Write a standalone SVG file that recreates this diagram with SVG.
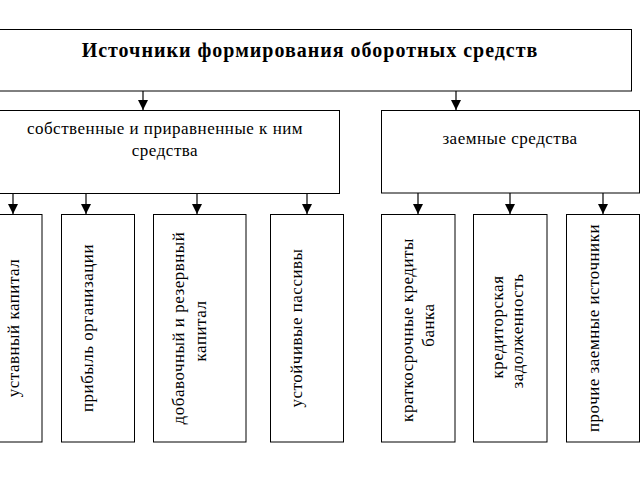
<svg xmlns="http://www.w3.org/2000/svg" width="640" height="480" viewBox="0 0 640 480">
<defs>
<marker id="ah" viewBox="0 0 10 10" refX="10" refY="5" markerWidth="10" markerHeight="10" markerUnits="userSpaceOnUse" orient="auto">
<path d="M0,0 L10,5 L0,10 Z" fill="#000"/>
</marker>
<style>
.box{fill:#fff;stroke:#000;stroke-width:1}
.t{font-family:"Liberation Serif","Times New Roman",serif;font-size:17px;letter-spacing:0.5px;fill:#000;text-anchor:middle}
.title{font-family:"Liberation Serif","Times New Roman",serif;font-size:20px;letter-spacing:1px;font-weight:bold;fill:#000;text-anchor:middle}
.c{stroke:#000;stroke-width:1.2;fill:none;marker-end:url(#ah)}
</style>
</defs>
<rect width="640" height="480" fill="#fff"/>
<g id="n-title">
<rect class="box" x="-1" y="29.5" width="632.5" height="61.5"/>
<text class="title" x="310" y="57">Источники формирования оборотных средств</text>
</g>
<g id="n-own">
<rect class="box" x="-1" y="110.5" width="340.5" height="83"/>
<text class="t" x="165" y="134">собственные и приравненные к ним</text>
<text class="t" x="165" y="156">средства</text>
</g>
<g id="n-borrowed">
<rect class="box" x="381.5" y="110.5" width="258" height="82.5"/>
<text class="t" x="510" y="144">заемные средства</text>
</g>
<g id="n-ustav">
<rect class="box" x="-20" y="214.5" width="62" height="227.5"/>
<text class="t" transform="translate(19,328) rotate(-90)">уставный капитал</text>
</g>
<g id="n-profit">
<rect class="box" x="61.5" y="214.5" width="73" height="227.5"/>
<text class="t" transform="translate(93,328) rotate(-90)">прибыль организации</text>
</g>
<g id="n-add">
<rect class="box" x="153.5" y="214.5" width="92.5" height="227.5"/>
<text class="t" transform="translate(184,328) rotate(-90)">добавочный и резервный</text>
<text class="t" transform="translate(206,331) rotate(-90)">капитал</text>
</g>
<g id="n-stable">
<rect class="box" x="270.5" y="214.5" width="73" height="227.5"/>
<text class="t" transform="translate(302,328) rotate(-90)">устойчивые пассивы</text>
</g>
<g id="n-short">
<rect class="box" x="381.5" y="214.5" width="73.5" height="227.5"/>
<text class="t" transform="translate(413,330) rotate(-90)">краткосрочные кредиты</text>
<text class="t" transform="translate(434,325) rotate(-90)">банка</text>
</g>
<g id="n-credit">
<rect class="box" x="473.5" y="214.5" width="73.5" height="227.5"/>
<text class="t" transform="translate(503,327) rotate(-90)">кредиторская</text>
<text class="t" transform="translate(523,331) rotate(-90)">задолженность</text>
</g>
<g id="n-other">
<rect class="box" x="566.5" y="214.5" width="73" height="227.5"/>
<text class="t" transform="translate(599,328) rotate(-90)">прочие заемные источники</text>
</g>
<g id="connectors">
<line class="c" x1="143" y1="91" x2="143" y2="110"/>
<line class="c" x1="456" y1="91" x2="456" y2="110"/>
<line class="c" x1="13" y1="194" x2="13" y2="214"/>
<line class="c" x1="86" y1="194" x2="86" y2="214"/>
<line class="c" x1="197" y1="194" x2="197" y2="214"/>
<line class="c" x1="307" y1="194" x2="307" y2="214"/>
<line class="c" x1="418" y1="193" x2="418" y2="214"/>
<line class="c" x1="510" y1="193" x2="510" y2="214"/>
<line class="c" x1="603" y1="193" x2="603" y2="214"/>
</g>
</svg>
